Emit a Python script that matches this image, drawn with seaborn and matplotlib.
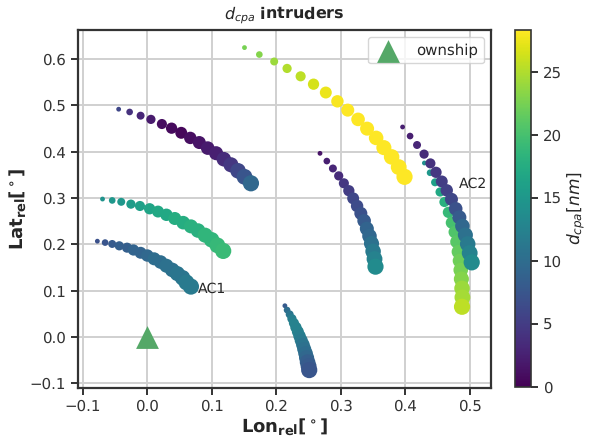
import numpy as np
import pandas as pd
import matplotlib
matplotlib.use("Agg")
import matplotlib.pyplot as plt
import seaborn as sns

# --- data ---
lon_a = [-0.044,-0.027,-0.010,0.006,0.023,0.038,0.053,0.067,0.081,0.094,0.107,0.119,0.130,0.141,0.151,0.161]
lat_a = [0.492,0.486,0.478,0.470,0.460,0.451,0.441,0.430,0.420,0.408,0.397,0.384,0.372,0.359,0.346,0.332]
dcpa_a = [6,4,3,2,1,0.7,0.5,1,1.5,2,2.5,3.5,4.5,6,7.5,9.5]

lon_b = [0.151,0.174,0.197,0.217,0.238,0.258,0.277,0.295,0.311,0.327,0.341,0.355,0.367,0.379,0.390,0.399]
lat_b = [0.625,0.610,0.595,0.580,0.563,0.546,0.528,0.509,0.490,0.470,0.450,0.430,0.409,0.389,0.367,0.346]
dcpa_b = [22.5,23,24,25,25.5,26.5,27.5,28,28.2,28.3,28.3,28.3,28.3,28.3,28.3,28.3]

lon_c = [-0.069,-0.054,-0.040,-0.025,-0.011,0.004,0.017,0.030,0.043,0.056,0.068,0.079,0.090,0.100,0.109,0.118]
lat_c = [0.298,0.295,0.292,0.287,0.283,0.277,0.271,0.264,0.256,0.247,0.239,0.230,0.220,0.210,0.198,0.186]
dcpa_c = [14.5,15,15,15.5,16,16.5,17,17,17.5,17.5,18,18,18.5,18.5,19,19.2]

lon_d = [-0.077,-0.065,-0.054,-0.043,-0.031,-0.021,-0.010,0.0005,0.011,0.021,0.030,0.039,0.047,0.055,0.061,0.068]
lat_d = [0.207,0.204,0.201,0.197,0.193,0.188,0.182,0.176,0.169,0.162,0.154,0.145,0.137,0.128,0.118,0.109]
dcpa_d = [7,7.5,8,8.5,8.5,9,9,9.5,10,10,10.5,10.5,11,11,11.5,11.5]

lon_e = [0.2136,0.217,0.221,0.2245,0.2276,0.2307,0.2337,0.2363,0.2389,0.2415,0.2435,0.2456,0.2472,0.2487,0.2503,0.2513]
lat_e = [0.0676,0.0583,0.049,0.0396,0.0302,0.0209,0.0115,0.0022,-0.0072,-0.0166,-0.0259,-0.0353,-0.0446,-0.054,-0.0626,-0.0713]
dcpa_e = [8,10,11,12,12.5,12.5,12.5,12,11.5,11,10.5,10,9.5,8.5,8,7.5]

lon_f = [0.268,0.2786,0.288,0.297,0.305,0.3127,0.3194,0.3255,0.3313,0.3364,0.3406,0.3447,0.3478,0.3503,0.3525,0.354]
lat_f = [0.3967,0.380,0.364,0.348,0.332,0.316,0.2995,0.283,0.267,0.251,0.234,0.218,0.202,0.185,0.1685,0.152]
dcpa_f = [1.5,2.5,3,3.5,4.5,5,6,6.5,7,8,9,9.5,10.5,11.5,12.5,13.5]

lon_g = [0.396,0.4076,0.4184,0.4293,0.4391,0.4478,0.4567,0.4644,0.4717,0.4783,0.484,0.4887,0.4933,0.4969,0.5,0.5031]
lat_g = [0.4536,0.434,0.4147,0.395,0.375,0.3557,0.336,0.3168,0.2974,0.277,0.2585,0.2397,0.2203,0.201,0.1814,0.1613]
dcpa_g = [2.5,2.5,3,3.5,4,4.5,5,5.5,6,7,8,9.5,10.5,11.5,12.5,13.5]

lon_h = [0.4298,0.4386,0.4463,0.4541,0.4608,0.467,0.4721,0.4768,0.4799,0.4825,0.4845,0.4861,0.4871,0.4881,0.4887,0.4881]
lat_h = [0.3758,0.3548,0.3341,0.3132,0.2916,0.2693,0.2469,0.2268,0.2058,0.1842,0.1648,0.1447,0.1253,0.1052,0.0857,0.0654]
dcpa_h = [14,15,16,17,18,19,20,20.5,21,21.5,22,22.5,23,24,24.5,25.5]

series = [(lon_h,lat_h,dcpa_h),(lon_g,lat_g,dcpa_g),(lon_f,lat_f,dcpa_f),(lon_b,lat_b,dcpa_b),
          (lon_e,lat_e,dcpa_e),(lon_c,lat_c,dcpa_c),(lon_d,lat_d,dcpa_d),(lon_a,lat_a,dcpa_a)]

dcpa_max = 28.3
marker_area = [12,23,33,44,53,66,74,80,88,96,102,110,118,125,130,136]

sns.set_theme(style="ticks", rc={"axes.edgecolor":"#333333","xtick.color":"#333333","ytick.color":"#333333",
    "axes.labelcolor":"#262626","text.color":"#262626","text.hinting":"none","text.hinting_factor":1})

fig = plt.figure(figsize=(5.89,4.42), dpi=100)
ax = fig.add_axes([78/589, 1-388/442, (491-78)/589, (388-30)/442])
cax = fig.add_axes([515/589, 1-387/442, 16/589, (387-30)/442])

size_map = dict(enumerate(marker_area))
for lon, lat, d in series:
    df = pd.DataFrame({"lon":lon,"lat":lat,"d":d,"step":np.arange(len(lon))})
    sns.scatterplot(data=df, x="lon", y="lat", hue="d", size="step", sizes=size_map,
                    palette="viridis", hue_norm=(0,dcpa_max), linewidth=0, legend=False,
                    ax=ax, zorder=3)

ax.scatter([0],[0], marker="^", s=270, color="#55A868", linewidth=0, zorder=4, label="ownship")
ax.text(0.079, 0.103, "AC1", fontsize=10.3, va="center", ha="left", color="#262626", zorder=5)
ax.text(0.483, 0.331, "AC2", fontsize=10.3, va="center", ha="left", color="#262626", zorder=5)

ax.set_xlim(-0.107,0.533)
ax.set_ylim(-0.110,0.663)
ax.set_xticks([-0.1,0,0.1,0.2,0.3,0.4,0.5])
ax.set_yticks([-0.1,0,0.1,0.2,0.3,0.4,0.5,0.6])
ax.grid(True,color="#d0d0d0",linewidth=1.4,zorder=0)
ax.set_axisbelow(True)
for s in ax.spines.values():
    s.set_linewidth(1.6)
ax.tick_params(labelsize=11,width=1.4,length=5)
ax.set_xlabel(r"$\mathbf{Lon_{rel}[^\circ]}$",fontsize=13,labelpad=1)
ax.set_ylabel(r"$\mathbf{Lat_{rel}[^\circ]}$",fontsize=13,labelpad=1)
ax.set_title(r"$d_{cpa}$ $\mathbf{intruders}$",fontsize=11.7,pad=8)
ax.legend(loc="upper right",frameon=True,fontsize=10.5,borderaxespad=0.5,handletextpad=0.9,borderpad=0.4)

sm = plt.cm.ScalarMappable(cmap="viridis",norm=plt.Normalize(0,dcpa_max))
cb = fig.colorbar(sm,cax=cax)
cb.set_ticks([0,5,10,15,20,25])
cb.ax.tick_params(labelsize=11,width=1.4,length=5)
cb.outline.set_linewidth(1.2)
cb.set_label(r"$d_{cpa}[nm]$",fontsize=12.5,labelpad=3)

fig.savefig("out.png",dpi=100)
